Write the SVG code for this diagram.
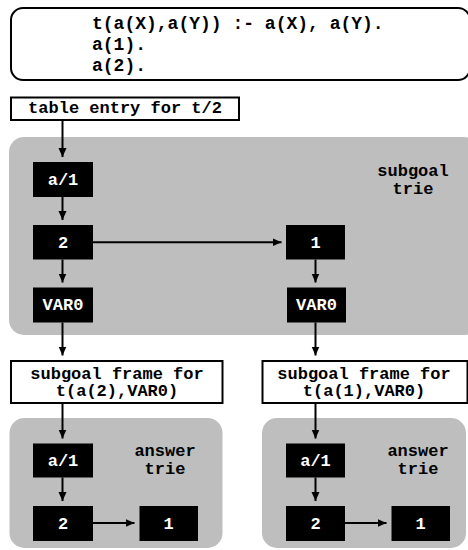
<svg xmlns="http://www.w3.org/2000/svg" width="468" height="550" viewBox="0 0 468 550">
<defs>
<marker id="ah" markerUnits="userSpaceOnUse" markerWidth="10" markerHeight="9" refX="9" refY="4" orient="auto">
<path d="M0,0 L9,4 L0,8 z" fill="#000"/>
</marker>
<style>
text{font-family:"Liberation Mono","DejaVu Sans Mono",monospace;font-weight:bold;font-size:17px;text-anchor:middle}
.code{font-size:18px;text-anchor:start}
.n rect{fill:#000}
.n text{fill:#fff}
.frame{fill:#fff;stroke:#000;stroke-width:2}
.area{fill:#bebebe}
.c line{stroke:#000;stroke-width:2;marker-end:url(#ah)}
</style>
</defs>
<g id="program">
<rect x="11" y="8" width="459" height="72" rx="12" fill="#fff" stroke="#000" stroke-width="2"/>
<text class="code" x="92" y="29">t(a(X),a(Y)) :- a(X), a(Y).</text>
<text class="code" x="92" y="50">a(1).</text>
<text class="code" x="92" y="71">a(2).</text>
</g>
<g id="subgoal-trie">
<rect class="area" x="9" y="137" width="470" height="198" rx="15"/>
<text x="413" y="176">subgoal</text>
<text x="413" y="193.5">trie</text>
</g>
<g id="answer-trie-left">
<rect class="area" x="9.5" y="418" width="213" height="130" rx="15"/>
<text x="165" y="456">answer</text>
<text x="165" y="473.5">trie</text>
</g>
<g id="answer-trie-right">
<rect class="area" x="262" y="418" width="204" height="130" rx="15"/>
<text x="418" y="456">answer</text>
<text x="418" y="473.5">trie</text>
</g>
<g id="table-entry">
<rect class="frame" x="11" y="97.5" width="228" height="22.5"/>
<text x="125" y="113">table entry for t/2</text>
</g>
<g id="s-a1" class="n"><rect x="33" y="162" width="60" height="35"/><text x="63" y="184.5">a/1</text></g>
<g id="s-2" class="n"><rect x="33" y="225" width="60" height="34.5"/><text x="63" y="247.5">2</text></g>
<g id="s-var0-left" class="n"><rect x="33" y="287.5" width="60" height="35"/><text x="63" y="310">VAR0</text></g>
<g id="s-1" class="n"><rect x="286" y="225" width="59" height="34.5"/><text x="315.5" y="247.5">1</text></g>
<g id="s-var0-right" class="n"><rect x="287" y="287.5" width="59" height="35"/><text x="316.5" y="310">VAR0</text></g>
<g id="frame-left">
<rect class="frame" x="11" y="361" width="211.5" height="42"/>
<text x="117" y="378.5">subgoal frame for</text>
<text x="117" y="396">t(a(2),VAR0)</text>
</g>
<g id="frame-right">
<rect class="frame" x="262.5" y="361" width="205" height="42"/>
<text x="364" y="378.5">subgoal frame for</text>
<text x="364" y="396">t(a(1),VAR0)</text>
</g>
<g id="l-a1" class="n"><rect x="33" y="443.5" width="60" height="34"/><text x="63" y="466">a/1</text></g>
<g id="l-2" class="n"><rect x="33" y="506" width="60" height="35"/><text x="63" y="528.5">2</text></g>
<g id="l-1" class="n"><rect x="139.5" y="506" width="58.5" height="35"/><text x="168.5" y="528.5">1</text></g>
<g id="r-a1" class="n"><rect x="286" y="443.5" width="59" height="34"/><text x="315.5" y="466">a/1</text></g>
<g id="r-2" class="n"><rect x="286" y="506" width="59" height="35"/><text x="315.5" y="528.5">2</text></g>
<g id="r-1" class="n"><rect x="391.5" y="506" width="58.5" height="35"/><text x="420.5" y="528.5">1</text></g>
<g id="connectors" class="c">
<line x1="62.5" y1="120" x2="62.5" y2="157"/>
<line x1="62.5" y1="197" x2="62.5" y2="220"/>
<line x1="62.5" y1="259.5" x2="62.5" y2="282.5"/>
<line x1="93" y1="242.3" x2="281.5" y2="242.3"/>
<line x1="315.5" y1="259.5" x2="315.5" y2="282.5"/>
<line x1="62.5" y1="322.5" x2="62.5" y2="355.5"/>
<line x1="315.5" y1="322.5" x2="315.5" y2="355.5"/>
<line x1="62.5" y1="403" x2="62.5" y2="438.5"/>
<line x1="315.5" y1="403" x2="315.5" y2="438.5"/>
<line x1="62.5" y1="477.5" x2="62.5" y2="501"/>
<line x1="315.5" y1="477.5" x2="315.5" y2="501"/>
<line x1="93" y1="523" x2="134.5" y2="523"/>
<line x1="345" y1="523" x2="386.5" y2="523"/>
</g>
</svg>
